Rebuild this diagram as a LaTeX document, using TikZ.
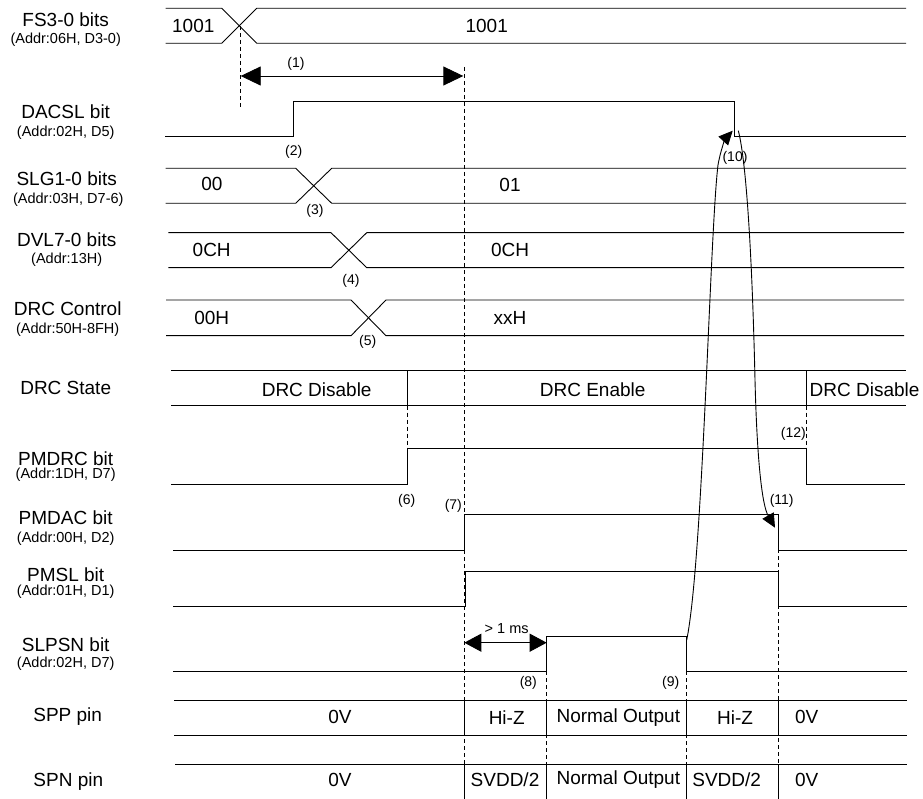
\documentclass[tikz,border=0pt]{standalone}
\usepackage{fontspec}
\setmainfont{Liberation Sans}
\usetikzlibrary{arrows.meta}
\begin{document}
\begin{tikzpicture}[x=1pt,y=-1pt,
  wave/.style={line width=0.9pt,black},
  dash line/.style={line width=0.9pt,dash pattern=on 4pt off 3pt},
  sig/.style={font=\fontsize{19}{21}\selectfont,inner sep=0pt},
  addr/.style={font=\fontsize{14.5}{16}\selectfont,inner sep=0pt},
  val/.style={font=\fontsize{19}{21}\selectfont,inner sep=0pt},
  num/.style={font=\fontsize{14}{16}\selectfont,inner sep=0pt},
  bigarrow/.style={line width=0.9pt,{Triangle[length=20pt,width=19pt]}-{Triangle[length=20pt,width=19pt]}},
  midarrow/.style={line width=0.9pt,{Triangle[length=17pt,width=18pt]}-{Triangle[length=17pt,width=18pt]}},
  curvearrow/.style={line width=0.9pt,-{Triangle[length=14pt,width=13pt]}}]
\fill[white] (0,0) rectangle (923,799);
\useasboundingbox (0,0) rectangle (923,799);

% ---------- left labels ----------
\node[sig]  (lfs)   at (65.7,19.3)  {FS3-0 bits};
\node[addr] (lfsa)  at (65.7,40)    {(Addr:06H, D3-0)};
\node[sig]  (ldac)  at (65.7,111.7) {DACSL bit};
\node[addr] (ldaca) at (65.7,132.3) {(Addr:02H, D5)};
\node[sig]  (lslg)  at (66.7,178.3) {SLG1-0 bits};
\node[addr] (lslga) at (68.3,200)   {(Addr:03H, D7-6)};
\node[sig]  (ldvl)  at (66.7,239.3) {DVL7-0 bits};
\node[addr] (ldvla) at (66.7,260)   {(Addr:13H)};
\node[sig]  (ldrc)  at (67.7,309)   {DRC Control};
\node[addr] (ldrca) at (67.7,330)   {(Addr:50H-8FH)};
\node[sig]  (lst)   at (65.7,388.3) {DRC State};
\node[sig]  (lpmd)  at (65.7,458.3) {PMDRC bit};
\node[addr] (lpmda) at (65.7,475)   {(Addr:1DH, D7)};
\node[sig]  (lpdac) at (65.7,517.3) {PMDAC bit};
\node[addr] (lpdaa) at (65.7,538.3) {(Addr:00H, D2)};
\node[sig]  (lpsl)  at (65.7,575)   {PMSL bit};
\node[addr] (lpsla) at (65.7,591.7) {(Addr:01H, D1)};
\node[sig]  (lslp)  at (65.7,645)   {SLPSN bit};
\node[addr] (lslpa) at (65.7,663.3) {(Addr:02H, D7)};
\node[sig]  (lspp)  at (67.7,716.7) {SPP pin};
\node[sig]  (lspn)  at (68.3,781.7) {SPN pin};

% ---------- dashed guide lines ----------
\draw[dash line] (240.7,26) -- (240.7,108);
\draw[dash line] (464,67) -- (464,799);
\draw[dash line] (407.7,405.7) -- (407.7,448.3);
\draw[dash line] (806,405.7) -- (806,448.3);
\draw[dash line] (778.3,514.3) -- (778.3,799);
\draw[dash line] (546.7,671) -- (546.7,799);
\draw[dash line] (686.7,671) -- (686.7,799);

% ---------- FS3-0 ----------
\draw[wave] (165.7,8.3) -- (221.7,8.3) -- (256.7,43.3) -- (906,43.3);
\draw[wave] (165.7,43.3) -- (221.7,43.3) -- (256.7,8.3) -- (906,8.3);
\node[val] (fs1) at (193.3,26) {1001};
\node[val] (fs2) at (486.7,26) {1001};

% ---------- DACSL ----------
\draw[wave] (165,136.7) -- (293.7,136.7) -- (293.7,101) -- (734.3,101) -- (734.3,136.7) -- (906,136.7);

% ---------- SLG1-0 ----------
\draw[wave] (165.7,168.3) -- (295.7,168.3) -- (331.7,203.3) -- (906,203.3);
\draw[wave] (165.7,203.3) -- (295.7,203.3) -- (331.7,168.3) -- (906,168.3);
\node[val] (slg1) at (212,184) {00};
\node[val] (slg2) at (510,185) {01};

% ---------- DVL7-0 ----------
\draw[wave] (168.3,232.7) -- (331,232.7) -- (366.7,267.7) -- (904,267.7);
\draw[wave] (168.3,267.7) -- (331,267.7) -- (366.7,232.7) -- (904,232.7);
\node[val] (dvl1) at (211.7,250) {0CH};
\node[val] (dvl2) at (510,250) {0CH};

% ---------- DRC Control ----------
\draw[wave] (166,300) -- (351,300) -- (386,335.7) -- (904,335.7);
\draw[wave] (166,335.7) -- (351,335.7) -- (386,300) -- (904,300);
\node[val] (drc1) at (211.7,318.3) {00H};
\node[val] (drc2) at (510,318.3) {xxH};

% ---------- DRC State ----------
\draw[wave] (171,370) -- (906,370);
\draw[wave] (171,405.7) -- (906,405.7);
\draw[wave] (407.7,370) -- (407.7,405.7);
\draw[wave] (806,370) -- (806,405.7);
\node[val] (st1) at (316.7,390) {DRC Disable};
\node[val] (st2) at (592.7,390) {DRC Enable};
\node[val,anchor=west] (st3) at (809.5,390) {DRC Disable};

% ---------- PMDRC ----------
\draw[wave] (171,484) -- (407.7,484) -- (407.7,448.3) -- (806,448.3) -- (806,484) -- (905,484);

% ---------- PMDAC ----------
\draw[wave] (173.3,550.7) -- (464,550.7) -- (464,514.3) -- (778.3,514.3) -- (778.3,550.7) -- (906.7,550.7);

% ---------- PMSL ----------
\draw[wave] (173.3,606.7) -- (465,606.7) -- (465,571.7) -- (778.3,571.7) -- (778.3,606.7) -- (906.7,606.7);

% ---------- SLPSN ----------
\draw[wave] (173.3,671) -- (546.7,671) -- (546.7,636) -- (686.7,636) -- (686.7,671) -- (906.7,671);

% ---------- SPP ----------
\draw[wave] (174.3,700) -- (906.7,700);
\draw[wave] (174.3,735.7) -- (906.7,735.7);
\foreach \xx in {464,546.7,686.7,778.3} \draw[wave] (\xx,700) -- (\xx,735.7);
\node[val] (spp1) at (340,717.3) {0V};
\node[val] (spp2) at (506.7,717.3) {Hi-Z};
\node[val] (spp3) at (618.3,717.3) {Normal Output};
\node[val] (spp4) at (735,717.3) {Hi-Z};
\node[val] (spp5) at (806.7,717.3) {0V};

% ---------- SPN ----------
\draw[wave] (175,764) -- (906.7,764);
\foreach \xx in {464,546.7,686.7,778.3} \draw[wave] (\xx,764) -- (\xx,799);
\node[val] (spn1) at (340,780) {0V};
\node[val] (spn2) at (505,780) {SVDD/2};
\node[val] (spn3) at (618.3,780) {Normal Output};
\node[val] (spn4) at (726.7,780) {SVDD/2};
\node[val] (spn5) at (806.7,780) {0V};

% ---------- timing arrows ----------
\coordinate (a1l) at (240.7,76);
\coordinate (a1r) at (463.3,76);
\draw[bigarrow] (a1l) -- (a1r);
\node[num] (n1) at (296,64) {(1)};

\coordinate (msl) at (464.3,642.7);
\coordinate (msr) at (546.7,642.7);
\draw[midarrow] (msl) -- (msr);
\node[addr] (ms) at (506.7,628.3) {> 1 ms};

% ---------- curved arrows ----------
\coordinate (c9) at (686.7,640);
\coordinate (c10) at (732.7,130.7);
\coordinate (c10s) at (738.3,130.7);
\coordinate (c11) at (775,527.7);
\draw[curvearrow] (c9) .. controls (703,560) and (710,230) .. (718,165) .. controls (721,148) and (726,138) .. (c10);
\draw[curvearrow] (c10s) .. controls (746,160) and (752,250) .. (755,380) .. controls (757,460) and (762,505) .. (c11);

% ---------- event numbers ----------
\node[num] (n2)  at (293.7,151.7) {(2)};
\node[num] (n3)  at (315,211)     {(3)};
\node[num] (n4)  at (351,281)     {(4)};
\node[num] (n5)  at (367.7,342.3) {(5)};
\node[num] (n6)  at (406.7,500.7) {(6)};
\node[num] (n7)  at (453.3,506)   {(7)};
\node[num] (n8)  at (528.3,682.7) {(8)};
\node[num] (n9)  at (670.7,682.7) {(9)};
\node[num] (n10) at (735,158.3)   {(10)};
\node[num] (n11) at (781.7,500.7) {(11)};
\node[num] (n12) at (793.3,434.3) {(12)};
\end{tikzpicture}
\end{document}
